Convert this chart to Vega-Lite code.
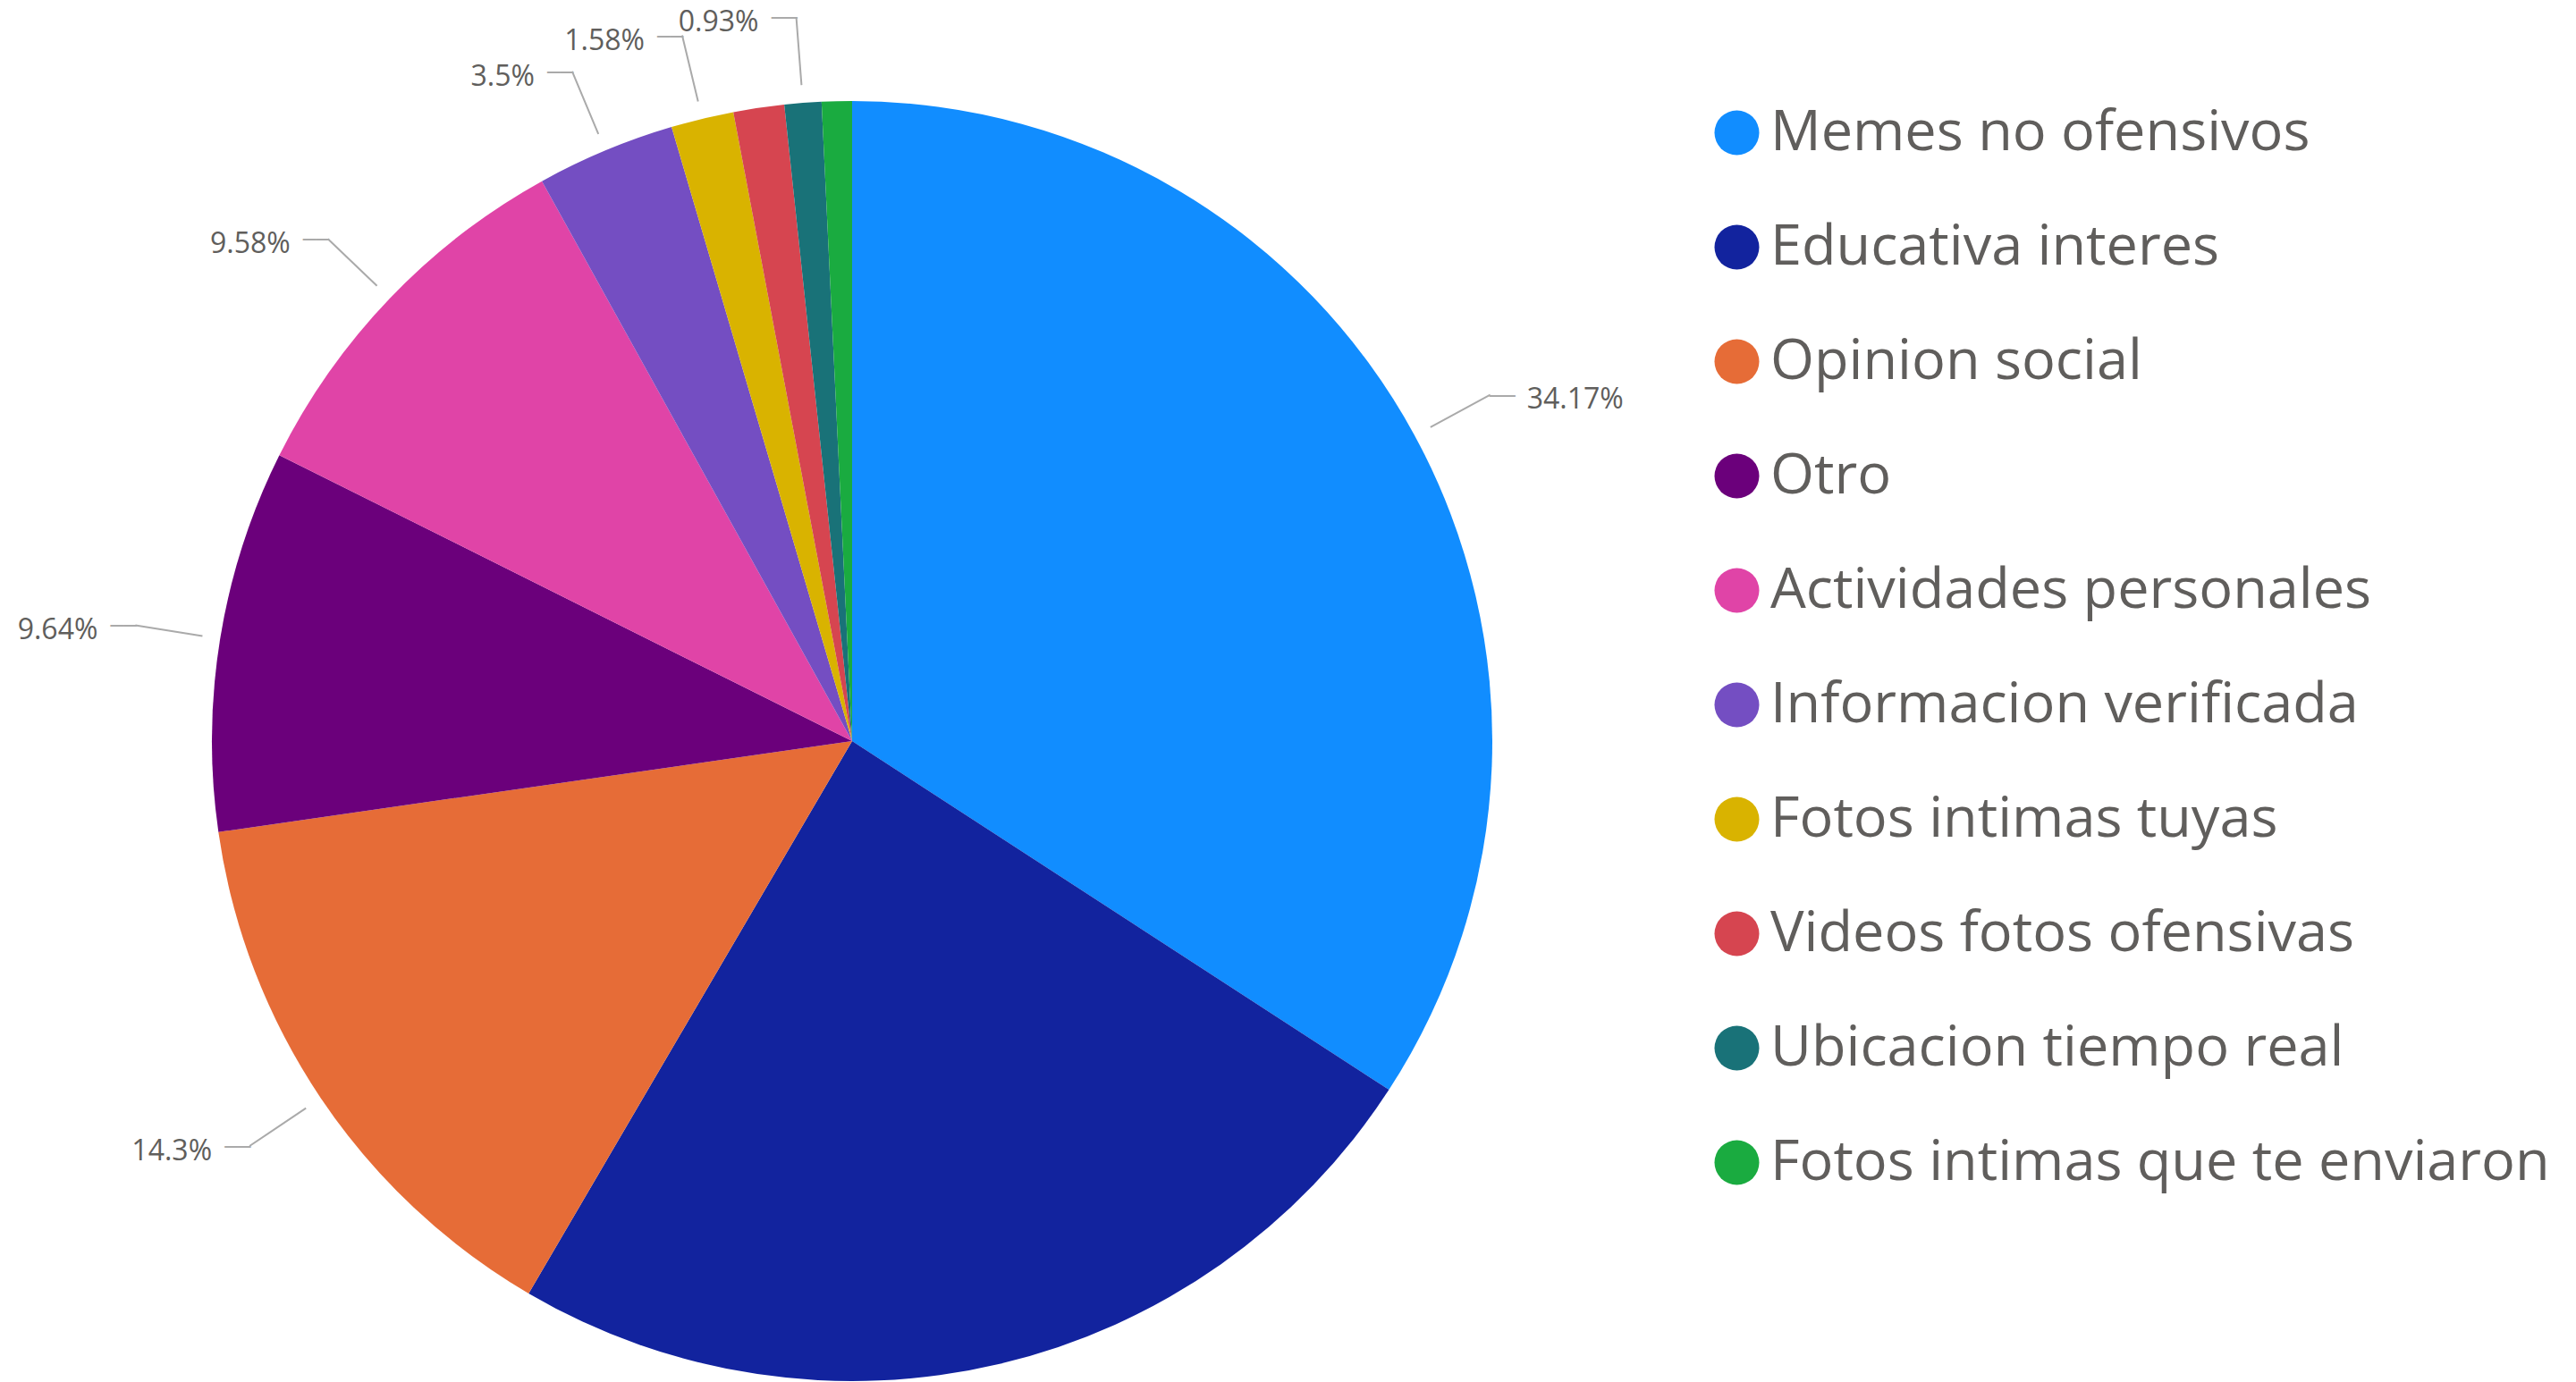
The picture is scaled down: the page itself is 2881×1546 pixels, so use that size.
{
  "$schema": "https://vega.github.io/schema/vega-lite/v6.json",
  "width": 1906,
  "height": 1432,
  "autosize": {"type": "none"},
  "padding": {"left": 0, "top": 113, "right": 975, "bottom": 1},
  "background": "white",
  "config": {"view": {"stroke": null}},
  "data": {
    "values": [
      {"idx": 1, "name": "Memes no ofensivos", "value": 34.17, "label": "34.17%"},
      {"idx": 2, "name": "Educativa interes", "value": 24.26, "label": null},
      {"idx": 3, "name": "Opinion social", "value": 14.3, "label": "14.3%"},
      {"idx": 4, "name": "Otro", "value": 9.64, "label": "9.64%"},
      {"idx": 5, "name": "Actividades personales", "value": 9.58, "label": "9.58%"},
      {"idx": 6, "name": "Informacion verificada", "value": 3.5, "label": "3.5%"},
      {"idx": 7, "name": "Fotos intimas tuyas", "value": 1.58, "label": "1.58%"},
      {"idx": 8, "name": "Videos fotos ofensivas", "value": 1.28, "label": null},
      {"idx": 9, "name": "Ubicacion tiempo real", "value": 0.93, "label": "0.93%"},
      {"idx": 10, "name": "Fotos intimas que te enviaron", "value": 0.76, "label": null}
    ]
  },
  "encoding": {
    "theta": {"field": "value", "type": "quantitative", "stack": true},
    "order": {"field": "idx", "type": "quantitative", "sort": "ascending"}
  },
  "layer": [
    {
      "mark": {"type": "arc", "radius": 716},
      "encoding": {
        "color": {
          "field": "name",
          "type": "nominal",
          "sort": null,
          "scale": {
            "domain": ["Memes no ofensivos", "Educativa interes", "Opinion social", "Otro", "Actividades personales", "Informacion verificada", "Fotos intimas tuyas", "Videos fotos ofensivas", "Ubicacion tiempo real", "Fotos intimas que te enviaron"],
            "range": ["#118DFF", "#12239E", "#E66C37", "#6B007B", "#E044A7", "#744EC2", "#D9B300", "#D64550", "#197278", "#1AAB40"]
          },
          "legend": {
            "orient": "none",
            "legendX": 1911,
            "legendY": 4,
            "title": null,
            "symbolType": "circle",
            "symbolSize": 2500,
            "symbolStrokeWidth": 0,
            "symbolOpacity": 1,
            "labelFont": "Open Sans",
            "labelFontSize": 63,
            "labelColor": "#605E5C",
            "labelOffset": 6,
            "labelLimit": 0,
            "rowPadding": 64
          }
        }
      }
    },
    {
      "mark": {"type": "arc", "radius": 812, "radius2": 736, "padAngle": 1.47, "fill": "transparent", "stroke": "#AAAAAA", "strokeWidth": 2},
      "encoding": {
        "strokeOpacity": {"condition": {"test": "datum.label", "value": 1}, "value": 0}
      }
    },
    {
      "mark": {"type": "text", "radius": 812, "align": "left", "baseline": "middle", "dx": -1, "dy": 2, "font": "DejaVu Sans", "fontSize": 24, "color": "#AAAAAA"},
      "encoding": {
        "text": {"condition": {"test": "datum.idx == 1", "value": "──"}, "value": ""}
      }
    },
    {
      "mark": {"type": "text", "radius": 812, "align": "right", "baseline": "middle", "dx": 1, "dy": 2, "font": "DejaVu Sans", "fontSize": 24, "color": "#AAAAAA"},
      "encoding": {
        "text": {"condition": {"test": "datum.idx > 1 && datum.label", "value": "──"}, "value": ""}
      }
    },
    {
      "mark": {"type": "text", "radius": 812, "align": "left", "baseline": "middle", "dx": 41, "dy": 5, "font": "Open Sans", "fontSize": 32, "color": "#605E5C"},
      "encoding": {
        "text": {"condition": {"test": "datum.idx == 1", "field": "label"}, "value": ""}
      }
    },
    {
      "mark": {"type": "text", "radius": 812, "align": "right", "baseline": "middle", "dx": -42, "dy": 6, "font": "Open Sans", "fontSize": 32, "color": "#605E5C"},
      "encoding": {
        "text": {"condition": {"test": "datum.idx > 1 && datum.label", "field": "label"}, "value": ""}
      }
    }
  ]
}
